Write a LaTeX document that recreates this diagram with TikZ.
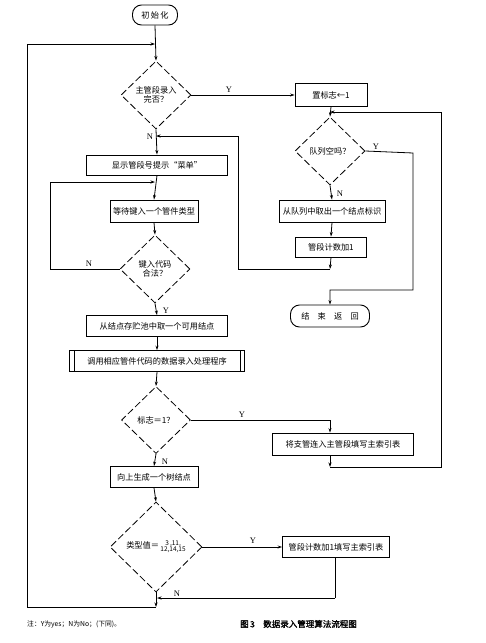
\documentclass[tikz,border=0pt]{standalone}
\usepackage{fontspec}
\setmainfont{Liberation Serif}
\newfontfamily\cjk{Noto Sans CJK SC}
\newfontfamily\cjkb[FakeBold=1.5]{Noto Sans CJK SC}
\usetikzlibrary{shapes.geometric,arrows.meta}
\begin{document}
\begin{tikzpicture}[x=1pt,y=-1pt,
  every node/.style={font=\cjk\fontsize{8.2}{9.5}\selectfont},
  box/.style={draw,line width=0.9pt,inner sep=1pt,align=center},
  term/.style={draw,line width=0.9pt,rounded corners=9pt,inner sep=1pt},
  dia/.style={draw,diamond,line width=0.8pt,dash pattern=on 7pt off 3pt,inner sep=0pt,align=center},
  ln/.style={line width=0.8pt},
  arr/.style={line width=0.8pt,-{Stealth[length=4.5pt,width=3pt]}},
  lab/.style={font=\fontsize{8.5}{9}\selectfont,inner sep=1pt}]
\useasboundingbox (0,0) rectangle (486,643);

% nodes
\node[term,minimum width=45pt,minimum height=20pt] (init) at (155,15) {初\,始\,化};
\node[dia,minimum width=70pt,minimum height=68pt] (d1) at (156,95) {主管段录入\\完否？};
\node[box,minimum width=72pt,minimum height=23pt] (flag) at (331,95) {置标志←1};
\node[dia,minimum width=70pt,minimum height=68pt] (dq) at (330,151) {队列空吗？};
\node[box,minimum width=106pt,minimum height=22pt] (take) at (332,211) {从队列中取出一个结点标识};
\node[box,minimum width=71pt,minimum height=20pt] (cnt) at (331,247) {管段计数加1};
\node[term,minimum width=79pt,minimum height=22pt] (endt) at (330,316) {结\quad 束\quad 返\quad 回};
\node[box,minimum width=141pt,minimum height=20pt] (menu) at (157,165) {显示管段号提示“菜单”};
\node[box,minimum width=88pt,minimum height=22pt] (wait) at (154,211) {等待键入一个管件类型};
\node[dia,minimum width=70pt,minimum height=68pt] (d2) at (155,269) {键入代码\\合法？};
\node[box,minimum width=141pt,minimum height=21pt] (pool) at (157,326) {从结点存贮池中取一个可用结点};
\node[box,minimum width=175pt,minimum height=21pt] (call) at (157,361) {调用相应管件代码的数据录入处理程序};
\draw[ln] ([xshift=5pt]call.north west) -- ([xshift=5pt]call.south west);
\draw[ln] ([xshift=-5pt]call.north east) -- ([xshift=-5pt]call.south east);
\node[dia,minimum width=69pt,minimum height=67pt] (d3) at (156,420) {标志＝1？};
\node[box,minimum width=141pt,minimum height=22pt] (link) at (343,444) {将支管连入主管段填写主索引表};
\node[box,minimum width=88pt,minimum height=21pt] (up) at (154,477) {向上生成一个树结点};
\node[dia,minimum width=92pt,minimum height=90pt] (d4) at (156,547) {类型值＝\,{\fontsize{6.5}{7}\selectfont\begin{tabular}{@{}c@{}}3\,,11,\\[-1pt]12,14,15\end{tabular}}};
\node[box,minimum width=107pt,minimum height=21pt] (fill) at (336,547) {管段计数加1填写主索引表};

% coordinates
\coordinate (cA) at (155,44);
\coordinate (cB) at (27,44);
\coordinate (cC) at (27,607);
\coordinate (cD) at (156,607);
\coordinate (m1) at (156,136);
\coordinate (r1) at (330,269);
\coordinate (r2) at (238,269);
\coordinate (r3) at (238,136);
\coordinate (q1) at (330,112);
\coordinate (lk) at (330,455);
\coordinate (lk2) at (330,467);
\coordinate (lk3) at (441,467);
\coordinate (lk4) at (441,112);
\coordinate (y1) at (413,153);
\coordinate (y2) at (413,290);
\coordinate (y3) at (330,290);
\coordinate (m2) at (155,182);
\coordinate (l1) at (50,269);
\coordinate (l2) at (50,182);
\coordinate (t1) at (330,420);
\coordinate (f1) at (335,558);
\coordinate (f2) at (335,598);
\coordinate (f3) at (157,598);

% connectors
\draw[arr] (init.south) -- (d1.north);
\draw[arr] (cD) -- (cC) -- (cB) -- (cA);
\draw[arr] (d4.south) -- (cD);
\draw[arr] (d1.east) -- (flag.west);
\node[lab] (ly1) at (229,90) {Y};
\draw[arr] (d1.south) -- (menu.north);
\node[lab] (ln1) at (150,137) {N};
\draw[arr] (cnt.south) -- (r1);
\draw[arr] (r1) -- (r2) -- (r3) -- (m1);
\draw[arr] (flag.south) -- (dq.north);
\draw[arr] (lk) -- (lk2);
\draw[arr] (lk2) -- (lk3) -- (lk4) -- (q1);
\draw[arr] (dq.east) -- (y1) -- (y2) -- (y3) -- (endt.north);
\node[lab] (ly2) at (376,147) {Y};
\draw[arr] (dq.south) -- (take.north);
\node[lab] (ln2) at (340,194) {N};
\draw[arr] (take.south) -- (cnt.north);
\draw[arr] (menu.south) -- (wait.north);
\draw[arr] (d2.west) -- (l1) -- (l2) -- (m2);
\node[lab] (ln3) at (89,264) {N};
\draw[arr] (wait.south) -- (d2.north);
\draw[arr] (d2.south) -- (pool.north);
\node[lab] (ly3) at (166,311) {Y};
\draw[arr] (pool.south) -- (call.north);
\draw[arr] (call.south) -- (d3.north);
\draw[arr] (d3.east) -- (t1) -- (link.north -| t1);
\node[lab] (ly4) at (242,415) {Y};
\draw[arr] (d3.south) -- (up.north);
\node[lab] (ln4) at (165,462) {N};
\draw[arr] (up.south) -- (d4.north);
\draw[arr] (d4.east) -- (fill.west);
\node[lab] (ly5) at (253,541) {Y};
\draw[ln] (f1) -- (f2);
\draw[arr] (f2) -- (f3);
\node[lab] (ln5) at (177,594) {N};

% notes
\node[anchor=west,inner sep=0pt,font=\cjk\fontsize{6.8}{8}\selectfont] (note) at (27,624) {注：Y为yes；N为No；(下同)。};
\node[anchor=west,inner sep=0pt,font=\cjkb\fontsize{8.5}{9}\selectfont] (cap) at (240,624) {图\,3\quad 数据录入管理算法流程图};
\end{tikzpicture}
\end{document}
